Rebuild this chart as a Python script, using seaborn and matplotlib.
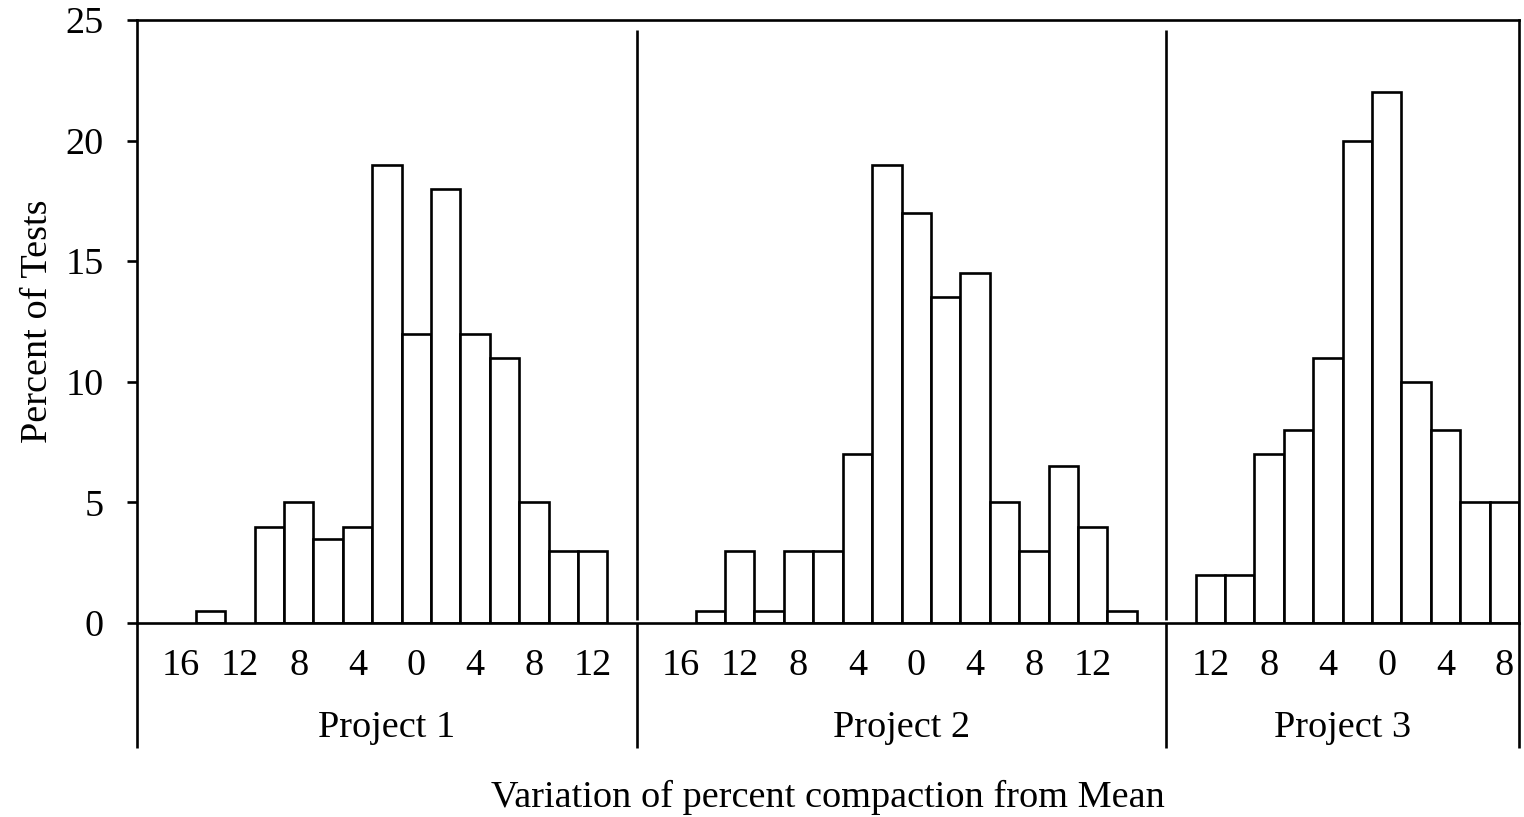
import matplotlib
matplotlib.use("Agg")
import matplotlib.pyplot as plt
import matplotlib.transforms as mtransforms
import pandas as pd
import seaborn as sns

# Histogram bins (percent of tests) per project, one entry per bin slot
projects = ["Project 1", "Project 2", "Project 3"]
project1_pct = [0, 0, 0.5, 0, 4, 5, 3.5, 4, 19, 12, 18, 12, 11, 5, 3, 3, 0]
project2_pct = [0, 0, 0.5, 3, 0.5, 3, 3, 7, 19, 17, 13.5, 14.5, 5, 3, 6.5, 4, 0.5, 0]
project3_pct = [0, 2, 2, 7, 8, 11, 20, 22, 10, 8, 5, 5]

# Bin labels, shown on every second slot starting at the second one
project1_labels = ["16", "12", "8", "4", "0", "4", "8", "12"]
project2_labels = ["16", "12", "8", "4", "0", "4", "8", "12"]
project3_labels = ["12", "8", "4", "0", "4", "8"]

y_ticks = [0, 5, 10, 15, 20, 25]

sns.set_theme(style="white")
plt.rcParams["font.family"] = ["Liberation Serif", "DejaVu Serif"]
FS = 27.5
LW = 1.9

# Lay the three projects side by side on one shared slot axis
rows, tick_pos, tick_lab, bounds = [], [], [], [-0.5]
start = 0
for name, vals, labs in zip(projects,
                            [project1_pct, project2_pct, project3_pct],
                            [project1_labels, project2_labels, project3_labels]):
    for i, v in enumerate(vals):
        if v > 0:
            rows.append({"slot": start + i, "pct": v, "project": name})
    tick_pos += [start + 1 + 2 * k for k in range(len(labs))]
    tick_lab += labs
    start += len(vals)
    bounds.append(start - 0.5)
df = pd.DataFrame(rows)

fig = plt.figure(figsize=(15.24, 8.17), dpi=100)
ax = fig.add_axes([137 / 1524, 1 - 623 / 817, (1519 - 137) / 1524, (623 - 20) / 817])

sns.barplot(data=df, x="slot", y="pct", native_scale=True, width=1,
            color="white", edgecolor="black", linewidth=LW,
            errorbar=None, ax=ax)

ax.set_xlim(bounds[0], bounds[-1])
ax.set_ylim(0, 25)
ax.set_yticks(y_ticks)
ax.set_yticklabels([str(t) for t in y_ticks], fontsize=FS)
ax.set_xticks(tick_pos)
ax.set_xticklabels(tick_lab, fontsize=FS)
ax.tick_params(axis="x", length=0, pad=18.5, colors="black")
ax.tick_params(axis="y", length=7.2, width=LW, pad=17, direction="out",
               left=True, colors="black")

for side in ["left", "right", "top", "bottom"]:
    ax.spines[side].set_visible(True)
    ax.spines[side].set_color("black")
    ax.spines[side].set_linewidth(LW)

trans = mtransforms.blended_transform_factory(ax.transData, ax.transAxes)

# Project dividers inside the plot area
for b in bounds[1:-1]:
    ax.plot([b, b], [0.005, 0.983], color="black", lw=LW, transform=trans,
            solid_capstyle="butt")

# Category frame lines under the axis
for b in bounds:
    ax.plot([b, b], [0, -0.207], color="black", lw=LW, transform=trans,
            clip_on=False, solid_capstyle="butt")

# Project names under their bins
for name, lo, hi in zip(projects, bounds[:-1], bounds[1:]):
    ax.text((lo + hi) / 2, -0.173, name, transform=trans, ha="center",
            va="center", fontsize=FS, color="black")

ax.set_xlabel("Variation of percent compaction from Mean", fontsize=FS,
              color="black")
ax.xaxis.set_label_coords(0.5, -0.29)
ax.xaxis.label.set_va("center")
ax.set_ylabel("Percent of Tests", fontsize=FS, color="black")
ax.yaxis.set_label_coords(-0.0716, 0.5)
ax.yaxis.label.set_va("center")

fig.savefig("out.png", dpi=100, facecolor="white")
